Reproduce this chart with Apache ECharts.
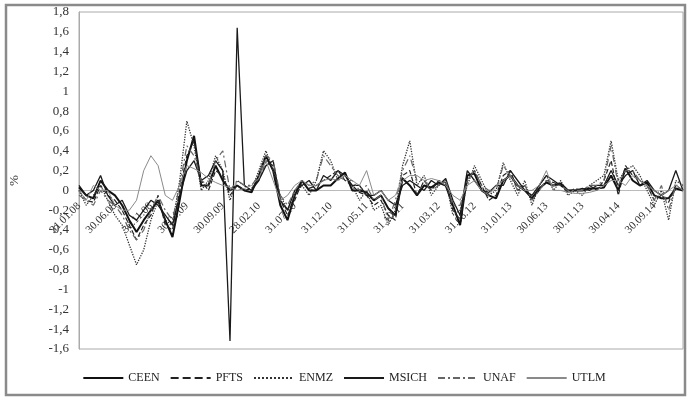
<!DOCTYPE html>
<html>
<head>
<meta charset="utf-8">
<script src="https://cdn.jsdelivr.net/npm/echarts@6/dist/echarts.min.js"></script>
<style>
  html, body { margin: 0; padding: 0; background: #fff; }
  #chart { width: 688px; height: 399px; }
</style>
</head>
<body>
<div id="chart"></div>
<script>
var dates = [
  "31.01.08","29.02.08","31.03.08","30.04.08","31.05.08","30.06.08","31.07.08","31.08.08","30.09.08","31.10.08","30.11.08","31.12.08",
  "31.01.09","28.02.09","31.03.09","30.04.09","31.05.09","30.06.09","31.07.09","31.08.09","30.09.09","31.10.09","30.11.09","31.12.09",
  "31.01.10","28.02.10","31.03.10","30.04.10","31.05.10","30.06.10","31.07.10","31.08.10","30.09.10","31.10.10","30.11.10","31.12.10",
  "31.01.11","28.02.11","31.03.11","30.04.11","31.05.11","30.06.11","31.07.11","31.08.11","30.09.11","31.10.11","30.11.11","31.12.11",
  "31.01.12","29.02.12","31.03.12","30.04.12","31.05.12","30.06.12","31.07.12","31.08.12","30.09.12","31.10.12","30.11.12","31.12.12",
  "31.01.13","28.02.13","31.03.13","30.04.13","31.05.13","30.06.13","31.07.13","31.08.13","30.09.13","31.10.13","30.11.13","31.12.13",
  "31.01.14","28.02.14","31.03.14","30.04.14","31.05.14","30.06.14","31.07.14","31.08.14","30.09.14","31.10.14","30.11.14","31.12.14",
  "31.01.15"
];

var ceen = [0.03, -0.05, -0.08, 0.1, 0.0, -0.05, -0.15, -0.3, -0.42, -0.3, -0.2, -0.1,
  -0.3, -0.47, -0.1, 0.3, 0.55, 0.05, 0.05, 0.25, 0.1, 0.0, 0.05, 0.0,
  -0.02, 0.15, 0.35, 0.2, -0.15, -0.3, -0.05, 0.1, 0.0, 0.0, 0.05, 0.05,
  0.12, 0.18, 0.0, 0.0, -0.02, -0.1, -0.05, -0.18, -0.25, 0.12, 0.05, -0.05,
  0.05, 0.03, 0.08, 0.05, -0.15, -0.35, 0.15, 0.17, 0.0, -0.05, -0.08, 0.1,
  0.15, 0.05, 0.0, -0.08, 0.02, 0.08, 0.05, 0.07, 0.0, 0.0, 0.0, 0.02,
  0.02, 0.03, 0.15, 0.0, 0.22, 0.1, 0.05, 0.08, -0.05, -0.08, -0.08, 0.02,
  0.0];

var pfts = [0.0, -0.1, -0.12, 0.05, -0.05, -0.1, -0.2, -0.35, -0.5, -0.35, -0.25, -0.05,
  -0.35, -0.4, 0.0, 0.35, 0.5, 0.1, 0.0, 0.2, 0.15, -0.05, 0.05, 0.0,
  0.02, 0.1, 0.3, 0.25, -0.1, -0.25, -0.1, 0.08, 0.02, 0.05, 0.1, 0.15,
  0.2, 0.1, 0.05, -0.02, -0.05, -0.15, -0.1, -0.25, -0.3, 0.15, 0.2, -0.05,
  0.1, 0.0, 0.1, 0.08, -0.2, -0.3, 0.1, 0.2, 0.05, -0.1, -0.05, 0.15,
  0.2, 0.0, 0.05, -0.1, 0.0, 0.1, 0.08, 0.05, -0.02, 0.02, 0.0, 0.05,
  0.0, 0.1, 0.3, -0.05, 0.25, 0.15, 0.1, 0.05, -0.1, -0.05, -0.12, 0.05,
  0.0];

var enmz = [0.0, -0.15, -0.05, 0.05, -0.1, -0.25, -0.35, -0.55, -0.75, -0.6, -0.3, -0.1,
  -0.3, -0.35, 0.1, 0.7, 0.45, 0.0, 0.1, 0.35, 0.2, -0.1, 0.1, 0.05,
  0.0, 0.2, 0.4, 0.2, -0.05, -0.2, -0.05, 0.05, -0.05, 0.1, 0.4, 0.3,
  0.1, 0.15, 0.05, -0.1, 0.0, -0.2, -0.15, -0.35, -0.2, 0.25, 0.5, 0.05,
  0.15, -0.05, 0.05, 0.1, -0.25, -0.2, 0.05, 0.25, 0.1, -0.05, 0.0, 0.28,
  0.1, -0.05, 0.1, -0.15, 0.05, 0.15, 0.0, 0.1, -0.05, 0.0, -0.05, 0.05,
  0.1, 0.15, 0.5, 0.1, 0.2, 0.25, 0.15, 0.0, -0.15, 0.0, -0.3, 0.1,
  0.05];

var msich = [0.05, -0.05, 0.0, 0.15, -0.05, -0.15, -0.1, -0.25, -0.3, -0.2, -0.1, -0.15,
  -0.25, -0.35, -0.05, 0.2, 0.3, 0.1, 0.15, 0.3, 0.2, -1.52, 1.64, 0.05,
  0.0, 0.1, 0.25, 0.3, -0.1, -0.2, 0.0, 0.05, 0.1, 0.0, 0.15, 0.1,
  0.2, 0.15, 0.05, 0.05, -0.05, -0.05, 0.0, -0.1, -0.15, 0.05, 0.1, 0.05,
  0.0, 0.1, 0.05, 0.12, -0.1, -0.25, 0.2, 0.1, 0.0, -0.02, 0.05, 0.05,
  0.2, 0.1, 0.0, -0.05, 0.05, 0.15, 0.1, 0.05, 0.0, 0.0, 0.02, 0.0,
  0.05, 0.05, 0.2, 0.05, 0.15, 0.2, 0.05, 0.1, 0.0, -0.05, 0.0, 0.2,
  0.0];

var unaf = [-0.05, -0.1, -0.15, 0.0, -0.1, -0.15, -0.25, -0.4, -0.5, -0.4, -0.2, -0.05,
  -0.2, -0.3, 0.05, 0.45, 0.35, 0.1, 0.05, 0.3, 0.4, 0.0, 0.1, 0.05,
  0.05, 0.15, 0.35, 0.3, -0.05, -0.15, 0.0, 0.1, 0.05, 0.1, 0.35, 0.25,
  0.15, 0.1, 0.1, 0.0, 0.05, -0.1, -0.05, -0.3, -0.1, 0.2, 0.35, 0.1,
  0.1, 0.0, 0.05, 0.1, -0.15, -0.15, 0.1, 0.2, 0.05, 0.0, 0.0, 0.25,
  0.15, 0.0, 0.05, -0.1, 0.0, 0.1, 0.05, 0.05, 0.0, 0.0, 0.0, 0.05,
  0.05, 0.1, 0.45, 0.05, 0.2, 0.2, 0.1, 0.05, -0.1, 0.05, -0.2, 0.05,
  0.05];

var utlm = [0.0, -0.1, 0.05, 0.0, 0.0, -0.15, -0.2, -0.2, -0.1, 0.2, 0.35, 0.25,
  -0.05, -0.1, 0.05, 0.25, 0.22, 0.18, 0.12, 0.08, 0.05, 0.03, 0.0, 0.02,
  0.05, 0.12, 0.3, 0.1, -0.1, -0.05, 0.05, 0.1, 0.05, 0.05, 0.1, 0.12,
  0.1, 0.15, 0.1, 0.05, 0.2, -0.05, 0.0, -0.1, -0.05, 0.1, 0.15, 0.15,
  0.1, 0.12, 0.1, 0.05, -0.05, -0.1, 0.05, 0.1, 0.0, -0.05, 0.05, 0.1,
  0.15, 0.05, 0.0, 0.0, 0.05, 0.2, 0.0, 0.0, -0.02, -0.03, -0.03, -0.02,
  0.0, 0.05, 0.1, 0.1, 0.05, 0.15, 0.1, 0.05, 0.0, -0.05, 0.0, 0.05,
  0.0];

var serif = "'Liberation Serif', 'DejaVu Serif', serif";

// grid geometry: the category axis sits on the zero line
var gridTop = 12, gridBottom = 50, yMin = -1.6, yMax = 1.8;
var plotH = 399 - gridTop - gridBottom;
var zeroShift = -plotH * (0 - yMin) / (yMax - yMin);

function line(name, data, color, width, type) {
  return {
    name: name,
    type: 'line',
    data: data,
    symbol: 'none',
    animation: false,
    lineStyle: { color: color, width: width, type: type },
    itemStyle: { color: color }
  };
}

var chart = echarts.init(document.getElementById('chart'));
chart.setOption({
  backgroundColor: '#fff',
  animation: false,
  graphic: [{
    type: 'rect',
    shape: { x: 6, y: 5, width: 679, height: 390 },
    style: { fill: 'none', stroke: '#8a8a8a', lineWidth: 2.5 },
    silent: true
  }],
  grid: {
    left: 79, right: 5, top: gridTop, bottom: gridBottom,
    show: true, borderColor: '#aaa', borderWidth: 1
  },
  legend: {
    bottom: 10,
    left: 'center',
    itemWidth: 40,
    itemHeight: 10,
    itemGap: 10,
    itemStyle: { opacity: 0 },
    textStyle: { fontFamily: serif, fontSize: 12, color: '#222' },
    data: ['CEEN', 'PFTS', 'ENMZ', 'MSICH', 'UNAF', 'UTLM']
  },
  xAxis: {
    type: 'category',
    data: dates,
    boundaryGap: false,
    position: 'bottom',
    offset: zeroShift,
    axisLine: { onZero: false, lineStyle: { color: '#bbb' } },
    axisTick: { show: false },
    axisLabel: {
      interval: 4,
      rotate: 45,
      margin: 14,
      fontFamily: serif,
      fontSize: 11,
      color: '#333'
    }
  },
  yAxis: {
    type: 'value',
    min: yMin,
    max: yMax,
    interval: 0.2,
    name: '%',
    nameLocation: 'middle',
    nameGap: 58,
    nameRotate: 90,
    nameTextStyle: { fontFamily: serif, fontSize: 13, color: '#333' },
    axisLine: { show: true, lineStyle: { color: '#aaa' } },
    axisTick: { show: false },
    splitLine: { show: false },
    axisLabel: {
      margin: 10,
      fontFamily: serif,
      fontSize: 13,
      color: '#333',
      formatter: function (v) { return String(+v.toFixed(1)).replace('.', ','); }
    }
  },
  series: [
    line('CEEN', ceen, '#111', 2, 'solid'),
    line('PFTS', pfts, '#222', 1.2, 'dashed'),
    line('ENMZ', enmz, '#333', 1.3, 'dotted'),
    line('MSICH', msich, '#1a1a1a', 1.3, 'solid'),
    line('UNAF', unaf, '#666', 1.2, [7, 3, 2, 3]),
    line('UTLM', utlm, '#8a8a8a', 1, 'solid')
  ]
});
</script>
</body>
</html>
